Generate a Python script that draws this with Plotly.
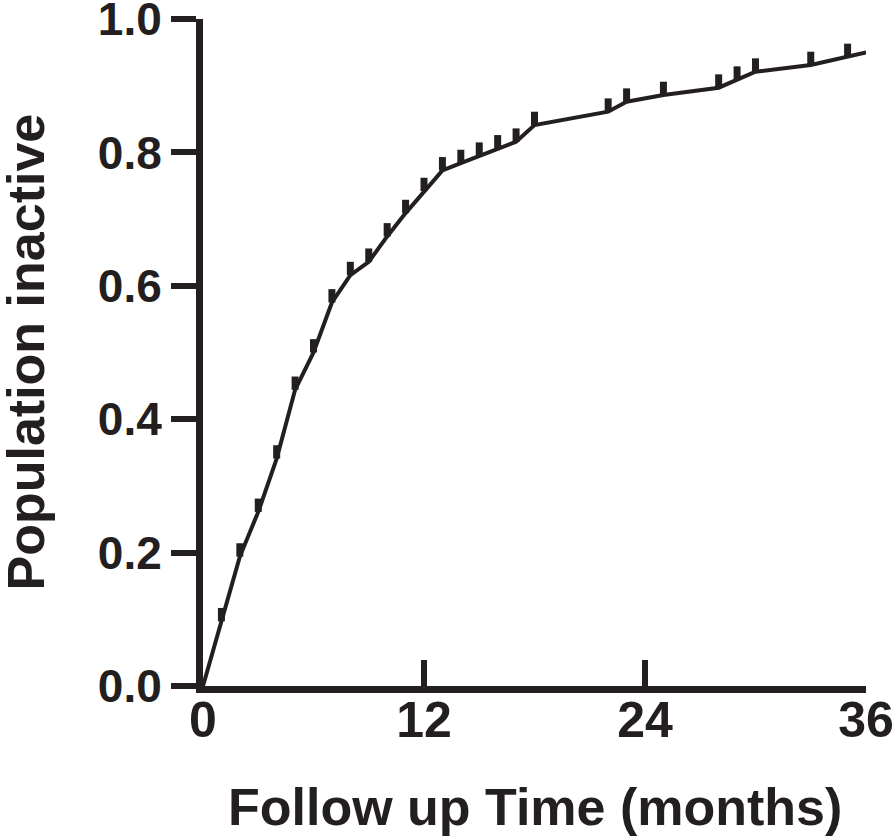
import plotly.graph_objects as go

# follow-up month and cumulative proportion inactive at each point of the curve
months = [0, 1, 2, 3, 4, 5, 6, 7, 8, 9, 10, 11, 12, 13, 14, 15, 16, 17, 18,
          22, 23, 25, 28, 29, 30, 33, 35, 36]
population_inactive = [0.0, 0.097, 0.194, 0.261, 0.341, 0.444, 0.50, 0.575, 0.616,
                       0.636, 0.674, 0.709, 0.742, 0.773, 0.784, 0.795, 0.806, 0.816,
                       0.841, 0.861, 0.876, 0.886, 0.897, 0.909, 0.921, 0.931, 0.943, 0.950]

# censored observations (tick marks on the curve)
censor_months = months[1:-1]
censor_values = population_inactive[1:-1]

x_ticks = [0, 12, 24, 36]
y_ticks = [0.0, 0.2, 0.4, 0.6, 0.8, 1.0]
y_tick_text = ["0.0", "0.2", "0.4", "0.6", "0.8", "1.0"]

ink = "#231F20"
font_family = "Liberation Sans, Arial, sans-serif"

fig = go.Figure()

fig.add_trace(go.Scatter(
    x=months, y=population_inactive, mode="lines",
    line=dict(color=ink, width=4), showlegend=False, hoverinfo="skip",
))

# censor ticks drawn as one-sided error bars above the curve
fig.add_trace(go.Scatter(
    x=censor_months, y=censor_values, mode="markers",
    marker=dict(size=1, color=ink),
    error_y=dict(type="constant", value=0.02, valueminus=0, symmetric=False,
                 thickness=7, width=0, color=ink),
    showlegend=False,
))

fig.update_layout(
    width=896, height=836,
    margin=dict(l=203, r=30, t=19, b=150),
    plot_bgcolor="white", paper_bgcolor="white",
    font=dict(family=font_family, color=ink, weight="bold"),
    xaxis=dict(
        range=[0, 36], tickvals=x_ticks, ticks="inside", ticklen=26, tickwidth=6,
        tickcolor=ink, showline=True, linecolor=ink, linewidth=7,
        showgrid=False, zeroline=False, automargin=False,
        ticklabeloverflow="allow", ticklabelstandoff=-16,
        tickfont=dict(size=50, family=font_family, color=ink, weight="bold"),
    ),
    yaxis=dict(
        range=[0, 1], tickvals=y_ticks, ticktext=y_tick_text, ticks="outside",
        ticklen=25, tickwidth=6, tickcolor=ink, showline=True, linecolor=ink,
        linewidth=7, showgrid=False, zeroline=False, automargin=False,
        ticklabeloverflow="allow",
        tickfont=dict(size=46, family=font_family, color=ink, weight="bold"),
    ),
    annotations=[
        dict(text="Follow up Time (months)", xref="paper", yref="paper",
             x=0.5, y=0, yshift=-121, xanchor="center", yanchor="middle",
             showarrow=False,
             font=dict(size=52, family=font_family, color=ink, weight="bold")),
        dict(text="Population inactive", xref="paper", yref="paper",
             x=0, y=0.5, xshift=-178, xanchor="center", yanchor="middle",
             textangle=-90, showarrow=False,
             font=dict(size=52, family=font_family, color=ink, weight="bold")),
    ],
)

# drop the default page margin so the figure sits at the window's corner
fig.write_html("out.html", config={"displayModeBar": False},
               post_script="document.body.style.margin = '0';")
